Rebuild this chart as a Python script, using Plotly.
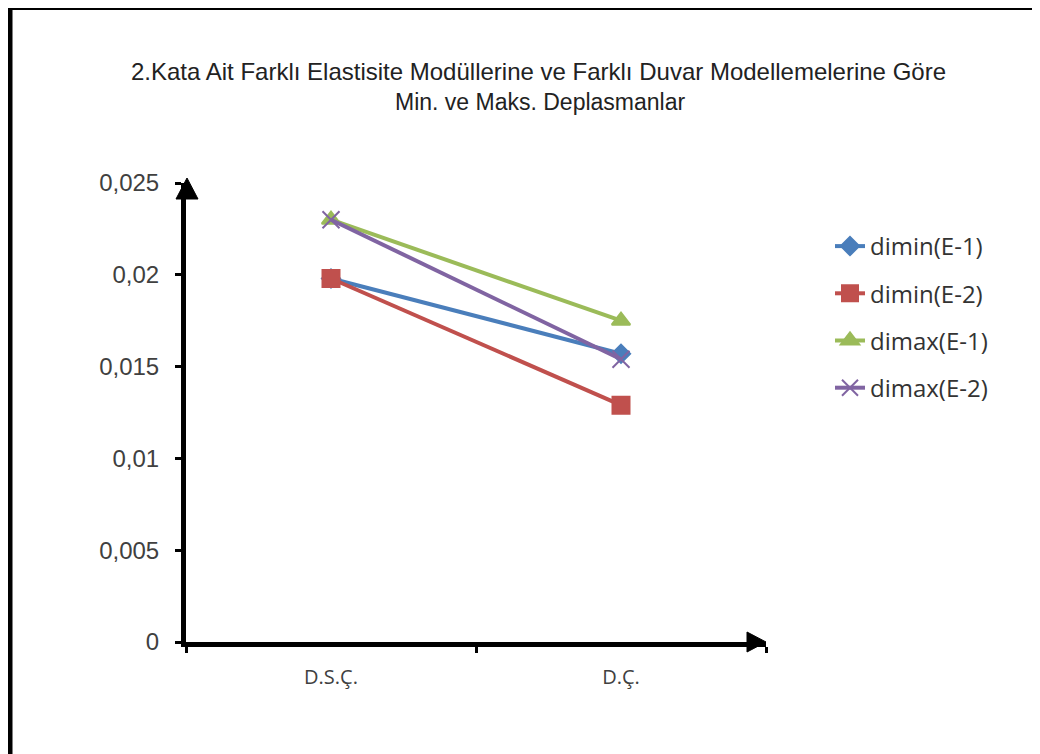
import plotly.graph_objects as go

categories = ["D.S.Ç.", "D.Ç."]
series_names = ["dimin(E-1)", "dimin(E-2)", "dimax(E-1)", "dimax(E-2)"]
dimin_e1 = [0.0198, 0.0157]
dimin_e2 = [0.0198, 0.0129]
dimax_e1 = [0.0230, 0.0175]
dimax_e2 = [0.0230, 0.0154]
y_ticks = [0, 0.005, 0.01, 0.015, 0.02, 0.025]
title_lines = ["2.Kata Ait Farklı Elastisite Modüllerine ve Farklı Duvar Modellemelerine Göre",
               "Min. ve Maks. Deplasmanlar"]

colors = ["#4A7EBB", "#C0504D", "#9BBB59", "#8064A2"]
symbols = ["diamond", "square", "triangle-up", "x-thin-open"]
sizes = [14, 17, 16, 17]

# page body has an 8px margin; work in screen pixels and convert
OFF = 8
W, H = 1040 - OFF, 754 - OFF
L, R, T, B = 186, 766, 183, 642  # plot area in screen pixels


def px(x):
    return (x - L) / (R - L)


def py(y):
    return (B - y) / (B - T)


fig = go.Figure()
for i, (name, vals) in enumerate(zip(series_names, [dimin_e1, dimin_e2, dimax_e1, dimax_e2])):
    fig.add_trace(go.Scatter(
        x=categories, y=vals, name=name, mode="lines+markers",
        line=dict(color=colors[i], width=4),
        marker=dict(symbol=symbols[i], size=sizes[i], color=colors[i],
                    line=dict(color=colors[i], width=2)),
        legendgroup=name,
    ))

shapes = [
    # outer border (left and top)
    dict(type="line", xref="paper", yref="paper", x0=px(10), x1=px(10), y0=py(5), y1=py(770),
         line=dict(color="black", width=5)),
    dict(type="line", xref="paper", yref="paper", x0=px(8), x1=px(1060), y0=py(7.5), y1=py(7.5),
         line=dict(color="black", width=5)),
    # axis arrowheads
    dict(type="path", xref="paper", yref="paper",
         path=f"M {px(176)} {py(199)} L {px(187)} {py(178)} L {px(198)} {py(199)} Z",
         fillcolor="black", line=dict(color="black", width=1)),
    dict(type="path", xref="paper", yref="paper",
         path=f"M {px(747)} {py(632)} L {px(766)} {py(642)} L {px(747)} {py(652)} Z",
         fillcolor="black", line=dict(color="black", width=1)),
]

annotations = [
    dict(text=title_lines[0], xref="paper", yref="paper", x=px(538), y=py(72),
         xanchor="center", yanchor="middle", showarrow=False,
         font=dict(family="Liberation Sans", size=24, color="#222222")),
    dict(text=title_lines[1], xref="paper", yref="paper", x=px(540), y=py(102),
         xanchor="center", yanchor="middle", showarrow=False,
         font=dict(family="Liberation Sans", size=23, color="#222222")),
]

fig.update_layout(
    width=W, height=H,
    margin=dict(l=L - OFF, r=W - (R - OFF), t=T - OFF, b=H - (B - OFF), pad=0),
    paper_bgcolor="white", plot_bgcolor="white",
    separators=",.",
    xaxis=dict(
        type="category", range=[-0.5, 1.5], showline=True, linecolor="black", linewidth=5,
        ticks="outside", ticklen=6, tickwidth=3, tickcolor="black", tickson="boundaries",
        showgrid=False, zeroline=False, ticklabelstandoff=13,
        tickfont=dict(family="Open Sans", size=20, color="#404040"),
    ),
    yaxis=dict(
        range=[0, 0.025], tickvals=y_ticks, showline=True, linecolor="black", linewidth=5,
        ticks="outside", ticklen=6, tickwidth=3, tickcolor="black",
        showgrid=False, zeroline=False, ticklabelstandoff=11,
        tickfont=dict(family="Liberation Sans", size=24, color="#404040"),
    ),
    legend=dict(
        x=px(830), y=py(224), xanchor="left", yanchor="top",
        font=dict(family="Open Sans", size=24, color="#333333"),
        tracegroupgap=13, bgcolor="rgba(0,0,0,0)",
    ),
    shapes=shapes,
    annotations=annotations,
    showlegend=True,
)

fig.write_html("out.html")
